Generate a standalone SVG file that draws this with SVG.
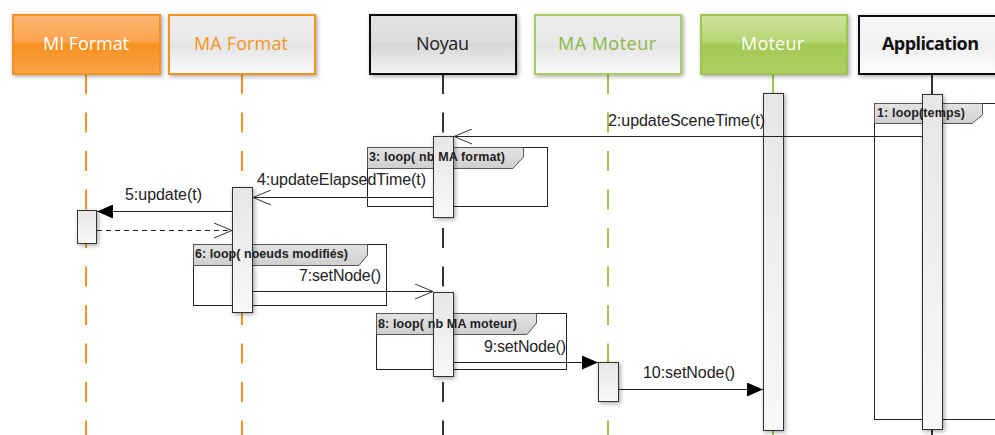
<svg xmlns="http://www.w3.org/2000/svg" width="995" height="435" viewBox="0 0 995 435">
<defs>
<filter id="sh" x="-30%" y="-30%" width="160%" height="160%">
<feDropShadow dx="1.5" dy="1.5" stdDeviation="2" flood-color="#000" flood-opacity="0.35"/>
</filter>
<linearGradient id="gOrange" x1="0" y1="0" x2="0" y2="1">
<stop offset="0" stop-color="#fdb873"/><stop offset="0.45" stop-color="#fba34f"/><stop offset="0.5" stop-color="#f8911f"/><stop offset="1" stop-color="#faa449"/>
</linearGradient>
<linearGradient id="gGreen" x1="0" y1="0" x2="0" y2="1">
<stop offset="0" stop-color="#cde39b"/><stop offset="0.45" stop-color="#b8d675"/><stop offset="0.5" stop-color="#a3c955"/><stop offset="1" stop-color="#accf62"/>
</linearGradient>
<linearGradient id="gGray" x1="0" y1="0" x2="0" y2="1">
<stop offset="0" stop-color="#e2e2e2"/><stop offset="0.45" stop-color="#dcdcdc"/><stop offset="0.5" stop-color="#d6d6d6"/><stop offset="1" stop-color="#f4f4f4"/>
</linearGradient>
<linearGradient id="gLight" x1="0" y1="0" x2="0" y2="1">
<stop offset="0" stop-color="#ededed"/><stop offset="0.45" stop-color="#e9e9e9"/><stop offset="0.5" stop-color="#e4e4e4"/><stop offset="1" stop-color="#fafafa"/>
</linearGradient>
<linearGradient id="gWhite" x1="0" y1="0" x2="0" y2="1">
<stop offset="0" stop-color="#f8f8f8"/><stop offset="0.5" stop-color="#f0f0f0"/><stop offset="1" stop-color="#fdfdfd"/>
</linearGradient>
<linearGradient id="gAct" x1="0" y1="0" x2="0" y2="1">
<stop offset="0" stop-color="#e6e6e6"/><stop offset="1" stop-color="#f8f8f8"/>
</linearGradient>
<linearGradient id="gTab" x1="0" y1="0" x2="0" y2="1">
<stop offset="0" stop-color="#e4e4e4"/><stop offset="1" stop-color="#cfcfcf"/>
</linearGradient>
<marker id="open" viewBox="0 0 20 16" refX="19" refY="8" markerWidth="20" markerHeight="16" markerUnits="userSpaceOnUse" orient="auto">
<path d="M1,0.5 L19,8 L1,15.5" fill="none" stroke="#333" stroke-width="1"/>
</marker>
<marker id="filled" viewBox="0 0 16 14" refX="16" refY="7" markerWidth="16" markerHeight="14" markerUnits="userSpaceOnUse" orient="auto">
<path d="M0,0 L16,7 L0,14 Z" fill="#000"/>
</marker>
<style>
.hdr{font-family:"Open Sans","Noto Sans",sans-serif;font-size:18px}
.msg{font-family:"Liberation Sans",Arial,sans-serif;font-size:16px;fill:#222}
.lbl{font-family:"Liberation Sans",Arial,sans-serif;font-size:12.5px;font-weight:bold;fill:#222}
.life{stroke-width:2;stroke-dasharray:20 18.5;fill:none}
.act{fill:url(#gAct);stroke:#333;stroke-width:1;filter:url(#sh)}
.frame{fill:none;stroke:#222;stroke-width:1}
.tab{fill:url(#gTab);stroke:#555;stroke-width:1}
.line{stroke:#222;stroke-width:1;fill:none}
</style>
</defs>
<rect width="995" height="435" fill="#fff"/>

<g id="frames">
<rect class="frame" x="874.5" y="103.5" width="130" height="316"/>
<polygon class="tab" points="874.5,103.5 982.5,103.5 982.5,115 972,123.5 874.5,123.5"/>
<rect class="frame" x="367.5" y="147.5" width="180" height="59"/>
<polygon class="tab" points="367.5,147.5 523.5,147.5 523.5,157 513,168.5 367.5,168.5"/>
<rect class="frame" x="193.5" y="244.5" width="193" height="61"/>
<polygon class="tab" points="193.5,244.5 367.5,244.5 367.5,255 359,265.5 193.5,265.5"/>
<rect class="frame" x="376.5" y="313.5" width="190" height="56"/>
<polygon class="tab" points="376.5,313.5 536.5,313.5 536.5,323 527,334.5 376.5,334.5"/>
</g>

<g id="mi-format">
<line class="life" x1="86" y1="74" x2="86" y2="435" stroke="#f7941d"/>
<rect x="13" y="15" width="147" height="59" fill="url(#gOrange)" stroke="#f39020" stroke-width="2" filter="url(#sh)"/>
<text class="hdr" x="43" y="50" fill="#fff" textLength="86">MI Format</text>
<rect class="act" x="77.5" y="210.5" width="19" height="33"/>
</g>

<g id="ma-format">
<line class="life" x1="242" y1="74" x2="242" y2="435" stroke="#f7941d"/>
<rect x="169" y="15" width="146" height="59" fill="url(#gLight)" stroke="#f7941d" stroke-width="2" filter="url(#sh)"/>
<text class="hdr" x="194" y="50" fill="#f7941d" textLength="94">MA Format</text>
<rect class="act" x="232.5" y="187.5" width="20" height="125"/>
</g>

<g id="noyau">
<line class="life" x1="443" y1="74" x2="443" y2="435" stroke="#333"/>
<rect x="370" y="15" width="146" height="59" fill="url(#gGray)" stroke="#111" stroke-width="2" filter="url(#sh)"/>
<text class="hdr" x="416" y="50" fill="#222" textLength="53">Noyau</text>
<rect class="act" x="433.5" y="136.5" width="20" height="81"/>
<rect class="act" x="433.5" y="292.5" width="20" height="84"/>
</g>

<g id="ma-moteur">
<line class="life" x1="608" y1="74" x2="608" y2="435" stroke="#9dc84a"/>
<rect x="535" y="15" width="146" height="59" fill="url(#gLight)" stroke="#a6cd5e" stroke-width="2" filter="url(#sh)"/>
<text class="hdr" x="558" y="50" fill="#8db84a" textLength="98">MA Moteur</text>
<rect class="act" x="598.5" y="362.5" width="20" height="39"/>
</g>

<g id="moteur">
<line class="life" x1="773" y1="74" x2="773" y2="435" stroke="#9dc84a"/>
<rect x="701" y="15" width="146" height="59" fill="url(#gGreen)" stroke="#9ec64f" stroke-width="2" filter="url(#sh)"/>
<text class="hdr" x="741" y="50" fill="#fff" textLength="63">Moteur</text>
<rect class="act" x="763.5" y="93.5" width="20" height="337"/>
</g>

<g id="application">
<line class="life" x1="932" y1="74" x2="932" y2="435" stroke="#333"/>
<rect x="859" y="16" width="150" height="58" fill="url(#gWhite)" stroke="#111" stroke-width="2" filter="url(#sh)"/>
<text class="hdr" x="882" y="50" fill="#111" font-weight="bold" textLength="97">Application</text>
<rect class="act" x="922.5" y="94.5" width="20" height="335"/>
</g>

<g id="frame-labels">
<text class="lbl" x="877" y="117" textLength="88">1: loop(temps)</text>
<text class="lbl" x="369" y="161" textLength="136">3: loop( nb MA format)</text>
<text class="lbl" x="195" y="258" textLength="153">6: loop( noeuds modifiés)</text>
<text class="lbl" x="378" y="328" textLength="139">8: loop( nb MA moteur)</text>
</g>

<g id="connectors">
<line class="line" x1="922" y1="136.5" x2="454" y2="136.5" marker-end="url(#open)"/>
<text class="msg" x="608" y="126" textLength="157">2:updateSceneTime(t)</text>
<line class="line" x1="433" y1="197.5" x2="253" y2="197.5" marker-end="url(#open)"/>
<text class="msg" x="257" y="185" textLength="169">4:updateElapsedTime(t)</text>
<line class="line" x1="232" y1="211.5" x2="97" y2="211.5" marker-end="url(#filled)"/>
<text class="msg" x="125" y="200" textLength="77">5:update(t)</text>
<line class="line" x1="97" y1="230.5" x2="232" y2="230.5" stroke-dasharray="5 4" marker-end="url(#open)"/>
<line class="line" x1="253" y1="291.5" x2="433" y2="291.5" marker-end="url(#open)"/>
<text class="msg" x="299" y="281" textLength="82">7:setNode()</text>
<line class="line" x1="454" y1="362.5" x2="598" y2="362.5" marker-end="url(#filled)"/>
<text class="msg" x="484" y="352" textLength="82">9:setNode()</text>
<line class="line" x1="619" y1="389.5" x2="763" y2="389.5" marker-end="url(#filled)"/>
<text class="msg" x="643" y="378" textLength="92">10:setNode()</text>
</g>
</svg>
